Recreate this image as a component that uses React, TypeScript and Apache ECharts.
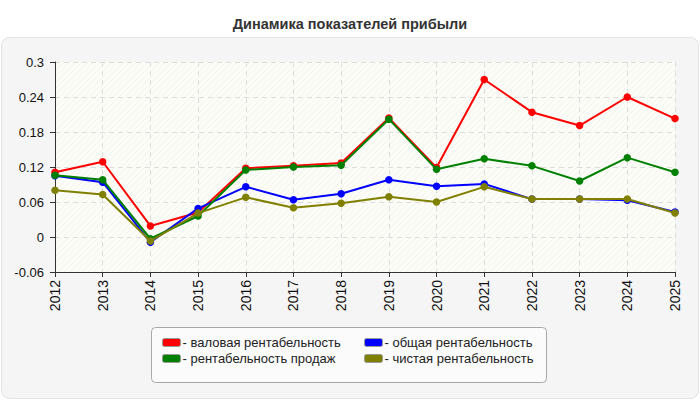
import React, { useEffect, useRef } from "react";
import * as echarts from "echarts";

const years = ["2012","2013","2014","2015","2016","2017","2018","2019","2020","2021","2022","2023","2024","2025"];
const grossMargin = [0.111, 0.129, 0.019, 0.042, 0.118, 0.122, 0.127, 0.204, 0.119, 0.270, 0.214, 0.191, 0.240, 0.203];
const totalMargin = [0.105, 0.094, -0.009, 0.049, 0.086, 0.064, 0.074, 0.098, 0.087, 0.091, 0.065, 0.065, 0.063, 0.043];
const salesMargin = [0.106, 0.098, -0.003, 0.036, 0.115, 0.120, 0.123, 0.202, 0.116, 0.134, 0.122, 0.096, 0.136, 0.111];
const netMargin = [0.080, 0.073, -0.007, 0.041, 0.068, 0.050, 0.058, 0.069, 0.060, 0.086, 0.065, 0.065, 0.065, 0.041];
const seriesNames = ["валовая рентабельность", "общая рентабельность", "рентабельность продаж", "чистая рентабельность"];
const seriesColors = ["#ff0000", "#0000ff", "#008000", "#808000"];
const titleText = "Динамика показателей прибыли";

const FONT = "Liberation Sans, Arial, sans-serif";

function makeHatch(): HTMLCanvasElement {
  const c = document.createElement("canvas");
  c.width = 6;
  c.height = 6;
  const ctx = c.getContext("2d")!;
  ctx.fillStyle = "#fdfdf7";
  ctx.fillRect(0, 0, 6, 6);
  ctx.strokeStyle = "#f2f2ee";
  ctx.lineWidth = 1;
  ctx.beginPath();
  ctx.moveTo(0, 6);
  ctx.lineTo(6, 0);
  ctx.moveTo(-3, 3);
  ctx.lineTo(3, -3);
  ctx.moveTo(3, 9);
  ctx.lineTo(9, 3);
  ctx.stroke();
  return c;
}

export default function App() {
  const ref = useRef<HTMLDivElement>(null);
  useEffect(() => {
    if (!ref.current) return;
    const chart = echarts.init(ref.current, undefined, { renderer: "svg" });
    const dataSets = [grossMargin, totalMargin, salesMargin, netMargin];
    const gridL = 55, gridT = 62, gridR = 25, gridB = 128;
    const legendText = {
      fontFamily: FONT,
      fontSize: 13,
      color: "#222",
    };
    chart.setOption({
      animation: false,
      backgroundColor: "#ffffff",
      title: {
        text: titleText,
        left: "center",
        top: 11,
        textStyle: { fontFamily: FONT, fontSize: 14.5, fontWeight: "bold", color: "#333" },
      },
      graphic: [
        {
          type: "rect",
          z: -20,
          shape: { x: 1.5, y: 37.5, width: 697, height: 361, r: 8 },
          style: { fill: "#f5f5f5", stroke: "#e2e2e2", lineWidth: 1 },
        },
        {
          type: "rect",
          z: -10,
          shape: { x: gridL, y: gridT, width: 700 - gridL - gridR, height: 400 - gridT - gridB },
          style: { fill: { image: makeHatch(), repeat: "repeat" } as any },
        },
        {
          type: "rect",
          z: -5,
          shape: { x: 151.5, y: 327.5, width: 395, height: 55, r: 4 },
          style: { fill: "#fbfbfb", stroke: "#a8a8a8", lineWidth: 1 },
        },
      ],
      legend: [
        {
          orient: "vertical",
          left: 162,
          top: 336,
          itemWidth: 18,
          itemHeight: 8,
          itemGap: 3,
          icon: "roundRect",
          padding: 0,
          data: [seriesNames[0], seriesNames[2]],
          formatter: "- {name}",
          textStyle: { ...legendText, padding: [0, 0, 0, -3] },
          itemStyle: { borderColor: "#999", borderWidth: 1 },
          selectedMode: false,
        },
        {
          orient: "vertical",
          left: 364,
          top: 336,
          itemWidth: 18,
          itemHeight: 8,
          itemGap: 3,
          icon: "roundRect",
          padding: 0,
          data: [seriesNames[1], seriesNames[3]],
          formatter: "- {name}",
          textStyle: { ...legendText, padding: [0, 0, 0, -3] },
          itemStyle: { borderColor: "#999", borderWidth: 1 },
          selectedMode: false,
        },
      ],
      grid: { left: gridL, top: gridT, right: gridR, bottom: gridB, containLabel: false },
      xAxis: {
        type: "category",
        data: years,
        boundaryGap: false,
        axisLine: { onZero: false, lineStyle: { color: "#333", width: 1 } },
        axisTick: { show: true, length: 5, lineStyle: { color: "#333" } },
        axisLabel: { rotate: 90, fontFamily: FONT, fontSize: 14, color: "#111", margin: 8 },
        splitLine: { show: true, lineStyle: { color: "#dddddd", type: [5, 4], width: 1 } },
      },
      yAxis: {
        type: "value",
        min: -0.06,
        max: 0.3,
        interval: 0.06,
        axisLine: { show: true, onZero: false, lineStyle: { color: "#333", width: 1 } },
        axisTick: { show: true, length: 5, lineStyle: { color: "#333" } },
        axisLabel: {
          fontFamily: FONT,
          fontSize: 13,
          color: "#111",
          margin: 11,
          formatter: (v: number) => String(parseFloat(v.toFixed(2))),
        },
        splitLine: { show: true, lineStyle: { color: "#dddddd", type: [5, 4], width: 1 } },
      },
      series: dataSets.map((d, i) => ({
        type: "line",
        name: seriesNames[i],
        data: d,
        color: seriesColors[i],
        symbol: "circle",
        symbolSize: 7.5,
        lineStyle: { width: 2, color: seriesColors[i] },
        itemStyle: { color: seriesColors[i] },
        z: 2 + i,
      })),
    });
    return () => chart.dispose();
  }, []);
  return <div ref={ref} style={{ position: "fixed", left: 0, top: 0, width: 700, height: 400 }} />;
}
